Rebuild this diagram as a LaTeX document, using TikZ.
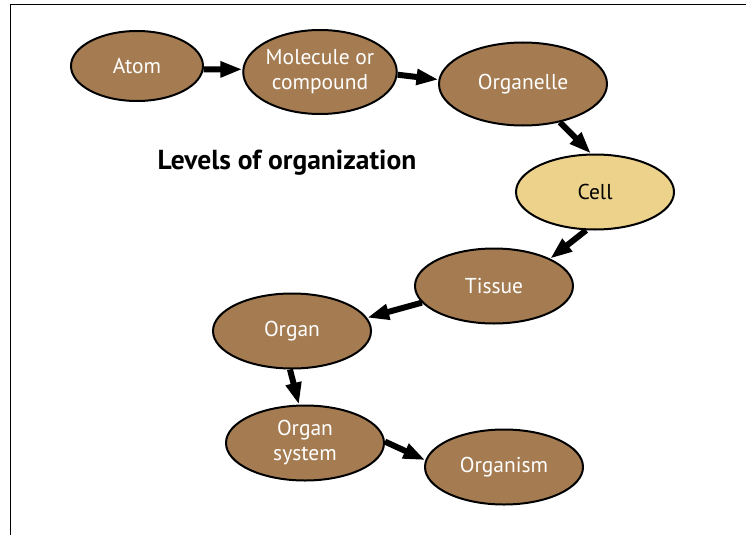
\documentclass[tikz,border=0pt]{standalone}
\usepackage{fontspec}
\setmainfont{PT Sans}
\usepackage{tikz}
\usetikzlibrary{shapes.geometric}
\usetikzlibrary{arrows.meta}
\definecolor{levelbrown}{RGB}{165,124,82}
\definecolor{celltan}{RGB}{236,210,139}

\tikzset{
  level/.style={ellipse,draw,line width=2pt,fill=levelbrown,text=white,
    minimum width=158pt,minimum height=75pt,inner sep=0pt,align=center,
    font=\fontsize{21.5}{25}\selectfont},
  flow/.style={line width=6pt,-{Triangle[length=22pt,width=15pt]}}
}

\begin{document}
\begin{tikzpicture}[x=1pt,y=-1pt]
\useasboundingbox (0,0) rectangle (746,535);
\draw[line width=1pt] (746,5) -- (10,5) -- (10,535);

\node[level,minimum width=132pt,minimum height=70pt] (atom) at (137,66) {Atom};
\node[level,minimum width=151pt,minimum height=84pt] (molecule) at (320,72) {Molecule or\\compound};
\node[level,minimum width=168pt,minimum height=83pt] (organelle) at (523,84) {Organelle};
\node[level,fill=celltan,text=black] (cell) at (595,192) {Cell};
\node[level] (tissue) at (494,286) {Tissue};
\node[level] (organ) at (292,331) {Organ};
\node[level] (orgsystem) at (305,443) {Organ\\system};
\node[level] (organism) at (504,467) {Organism};

\node[font=\bfseries\fontsize{27.5}{32}\selectfont] (title) at (287,163) {Levels of organization};

\draw[flow] (atom.-3) -- (molecule.178);
\draw[flow] (molecule.-2) -- (organelle.177);
\draw[flow] (organelle.-46) -- (cell.96);
\draw[flow] (cell.-103) -- (tissue.26);
\draw[flow] (tissue.-167) -- (organ.10);
\draw[flow] (organ.-93) -- (orgsystem.99);
\draw[flow] (orgsystem.1) -- (organism.175);
\end{tikzpicture}
\end{document}
